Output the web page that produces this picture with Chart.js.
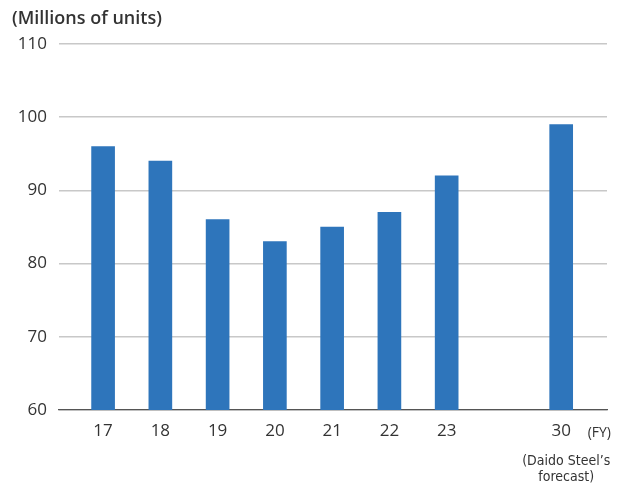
<!DOCTYPE html>
<html>
<head>
<meta charset="utf-8">
<script src="https://cdn.jsdelivr.net/npm/chart.js@4/dist/chart.umd.min.js"></script>
<style>
  html, body { margin: 0; padding: 0; background: #fff; }
  #wrap { width: 618px; height: 483px; position: relative; }
</style>
</head>
<body>
<div id="wrap"><canvas id="c" width="618" height="483"></canvas></div>
<script>
// Fiscal years on the category axis; the empty slot leaves a gap before the forecast year
const categories = ['17', '18', '19', '20', '21', '22', '23', '', '30'];
// Units in millions
const units = [96, 94, 86, 83, 85, 87, 92, null, 99];
const yTicks = [60, 70, 80, 90, 100, 110];

const FONT = '"Open Sans", "Noto Sans", sans-serif';
const TEXT = '#333333';

const points = categories.map((c, i) => ({ x: i, y: units[i] })).filter(p => p.y !== null);

const notes = {
  id: 'notes',
  afterDraw(chart) {
    const ctx = chart.ctx;
    const xs = chart.scales.x;
    const area = chart.chartArea;
    ctx.save();
    ctx.fillStyle = TEXT;
    ctx.textBaseline = 'middle';
    ctx.font = '600 18px ' + FONT;
    ctx.textAlign = 'left';
    ctx.fillText('(Millions of units)', 12, 19);
    ctx.font = '14px ' + FONT;
    ctx.textAlign = 'right';
    ctx.fillText('(FY)', area.right + 4, 433);
    const fx = xs.getPixelForValue(categories.length - 1) + 5;
    ctx.font = '14px "Liberation Sans Narrow", "DejaVu Sans Condensed", sans-serif';
    ctx.textAlign = 'center';
    ctx.fillText('(Daido Steel\u2019s', fx, 461);
    ctx.fillText('forecast)', fx, 477);
    ctx.restore();
  }
};

new Chart(document.getElementById('c'), {
  type: 'bar',
  data: {
    datasets: [{
      data: points,
      backgroundColor: '#2e75bb',
      borderWidth: 0,
      barThickness: 23
    }]
  },
  options: {
    responsive: false,
    animation: false,
    layout: { padding: { top: 44, right: 11, left: 0, bottom: 0 } },
    plugins: { legend: { display: false }, tooltip: { enabled: false } },
    scales: {
      x: {
        type: 'linear',
        offset: false,
        min: -0.77,
        max: 8.8,
        afterBuildTicks(scale) {
          scale.ticks = categories.map((c, i) => ({ value: i }));
        },
        afterFit(scale) { scale.height = 73; },
        grid: { display: false, drawTicks: false },
        border: { display: true, color: '#555555', width: 1.3 },
        ticks: {
          padding: 11,
          autoSkip: false,
          maxRotation: 0,
          color: TEXT,
          font: { family: FONT, size: 17 },
          callback: (v) => categories[v] ?? ''
        }
      },
      y: {
        min: 60,
        max: 110,
        afterBuildTicks(scale) {
          scale.ticks = yTicks.map(v => ({ value: v }));
        },
        afterFit(scale) { scale.width = 59; },
        grid: { color: '#c8c8c8', lineWidth: 1.5, drawTicks: false },
        border: { display: false },
        ticks: {
          padding: 12,
          color: TEXT,
          font: { family: FONT, size: 17 }
        }
      }
    }
  },
  plugins: [notes]
});
</script>
</body>
</html>
